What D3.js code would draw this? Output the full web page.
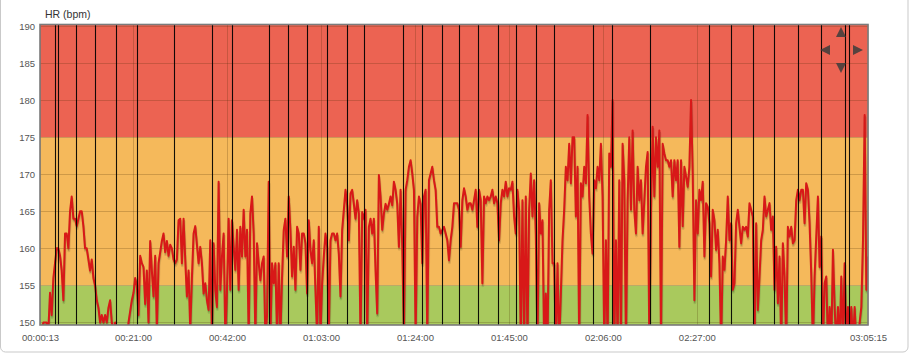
<!DOCTYPE html>
<html><head><meta charset="utf-8">
<script src="https://cdn.jsdelivr.net/npm/d3@7"></script>
<style>body{margin:0;background:#fff;}svg{display:block;}</style>
</head><body>
<svg id="chart" width="913" height="356"></svg>
<script>
// ---- data ----
const startSec = 13, endSec = 11115;
const hr = [
149,149,150,150,150,149,154,151,156,158,
160,160,159,157,153,162,162,160,165,167,
164,164,163,164,165,165,163,160,160,158.5,
157,158.5,156,155,153,152,150,151,150,151,
150,152,153,150,149,150,149,147,147,147,
147,147,147,150,151.5,153,154,156,155,151,
159,158,157.5,152.5,157,150,161,157,153.5,159,
149,158,159.5,161,162,159.5,161,159,160.5,160,
158.5,158,158.5,163.8,164,158,164,158.5,153.5,157,
149,156,162,163,160.5,158,160.2,158,153.9,155.3,
153,151.7,161.1,148,160.7,154.4,152.1,169,154.4,158.9,
162,148,154.4,164,154.4,163.8,160.2,157.1,162.5,154.4,
162.9,158.9,165.2,158.9,162.5,148,164.7,167,162,148,
160.7,158,155.7,158,158.9,148,151,169,148,158,
155.3,158,148,158,148,156.2,162.5,164,158.9,167,
162.5,156.2,160.2,154.4,162.9,162,157.1,162,162,160.7,
153.9,163.8,159.8,158,161.1,154.4,148,162.9,148,155.3,
158.9,162,160.2,148,161.1,162,162,161.1,162,159.3,
153.5,162.5,165.2,167.9,165.8,161.1,167.4,167.9,166,164,
166.5,164.7,148,164.9,164,165.2,148,162.9,164,162,
164,157.1,151.2,169.9,167,162.5,164.7,166,165.2,166,
167,165.8,169,167.9,166,160.2,167.9,160.2,148,167.9,
169.2,171,171.9,170.1,167.9,148,164.3,167,166,158,
167,167.9,148,169.2,170.1,171,169.2,167.9,162.9,162.9,
162,162.5,162.9,162,161.1,158.4,161.1,162.9,166.1,166.1,
166.1,165.2,160.2,166.5,168.1,167,165.2,166.1,166.1,165.2,
166.5,167.9,162.9,167.9,166.5,155.3,167,166.1,167,166.5,
167,167.9,166.1,167,166.1,161.1,166.1,167.9,167,169,
167,168.1,167.9,169,164.3,162,167.9,165.2,147,166.5,
147,167,147,165.2,170.1,164.3,169.2,162,147,166.1,
162,163.8,147,153.9,147,165.2,169.2,158,158,147,
158,147,153.9,161.1,165.2,171,169.2,174.1,168.8,175,
175,164.3,171,147,168.8,167,171,168.8,178,167,
162,159.3,169.2,168.1,171,169.2,174.1,167,147,161.1,
147,172.8,171,180,147,161.1,147,169.2,147,174.1,
169.2,147,166.5,175,165.2,175.9,165.2,162,171,166.5,
169.2,162,166.5,171,173,147,165.2,176.4,167,175,
171,175.9,147,174.1,172.8,171.9,171.9,171,171.9,167,
171.9,169.2,171.9,160.2,171.9,163,171,169.7,168.3,171,
180,170.1,153,166.5,162,167.9,166.5,169,158.9,166.1,
165.6,163.4,156.2,165.2,163.8,159.8,162.5,158,147,158.9,
157.1,161.1,167,161.1,163.4,154.4,155.3,163.4,165.2,162.9,
160.7,162.9,162.5,162.9,161.6,166.1,165.2,164.3,147,163.4,
151.7,156.2,161.1,162.5,167,164.3,165.2,166.1,162.5,164.3,
154.4,160.2,152.6,158.9,147,160.7,156.2,147,162.9,161.6,
162.9,160.7,161.1,166.5,167.9,166.5,167.9,167.9,163.4,168.8,
167.9,163.4,156.6,147,156.2,161.6,167,157.5,161.6,147,
155.3,156.2,147,152.1,147,159.8,152.1,147,152.1,147,
156.2,147,158,147,152.1,147,152.1,147,152.1,147,
148,150,152.1,161.1,178,154.4,158.9
];
const lapSec = [214,258,496,754,1028,1310,1814,2323,2581,3083,3334,3589,3861,4123,4361,
  4884,5139,5399,5635,5882,6150,6399,6663,6909,7424,7678,8192,8987,9282,9577,9858,
  10172,10481,10806,10864];
const xTickSec = [13,1260,2520,3780,5040,6300,7560,8820,11115];
const xTickLabels = ["00:00:13","00:21:00","00:42:00","01:03:00","01:24:00","01:45:00","02:06:00","02:27:00","03:05:15"];
const yTicks = [150,155,160,165,170,175,180,185,190];
const zoneLimits = [155,175];
const yDomain = [149.66,190.2];

// ---- layout ----
const L = 40, R = 868, T = 24.5, B = 325;
const svg = d3.select("#chart");
const x = d3.scaleLinear().domain([startSec,endSec]).range([L,R]);
const y = d3.scaleLinear().domain(yDomain).range([B,T]);
const stepSec = (endSec-startSec)/(hr.length-1);
const pts = hr.map((v,i)=>[startSec+i*stepSec, v]);

// outer panel
svg.append("rect").attr("x",0.5).attr("y",-10).attr("width",907.5).attr("height",362)
  .attr("rx",5).attr("fill","#fff").attr("stroke","#c9c9c9");

// zones
const zoneColors = ["#a9c95d","#f5b95b","#ec6352"];
const bounds = [yDomain[0], ...zoneLimits, yDomain[1]];
for (let k=0;k<3;k++){
  svg.append("rect").attr("x",L).attr("width",R-L)
    .attr("y",y(bounds[k+1])).attr("height",y(bounds[k])-y(bounds[k+1]))
    .attr("fill",zoneColors[k]);
}

// grid
const grid = svg.append("g").attr("stroke","rgba(70,40,0,0.22)").attr("stroke-width",1);
yTicks.forEach(t=>grid.append("line").attr("x1",L).attr("x2",R).attr("y1",Math.round(y(t))+0.5).attr("y2",Math.round(y(t))+0.5));
xTickSec.forEach(t=>grid.append("line").attr("y1",T).attr("y2",B).attr("x1",Math.round(x(t))+0.5).attr("x2",Math.round(x(t))+0.5));

// clip
svg.append("clipPath").attr("id","clip").append("rect").attr("x",L).attr("y",T).attr("width",R-L).attr("height",B-T);
const plot = svg.append("g").attr("clip-path","url(#clip)");
const line = d3.line().x(d=>x(d[0])).y(d=>y(d[1]));
const ang = Math.PI/18, lw = 2, sw = 3;
plot.append("path").datum(pts).attr("d",line).attr("fill","none")
  .attr("stroke","rgba(0,0,0,0.1)").attr("stroke-width",sw).attr("stroke-linejoin","round")
  .attr("transform",`translate(${Math.sin(ang)*(lw/2+sw/2)},${Math.cos(ang)*(lw/2+sw/2)})`);
plot.append("path").datum(pts).attr("d",line).attr("fill","none")
  .attr("stroke","rgba(0,0,0,0.2)").attr("stroke-width",sw/2).attr("stroke-linejoin","round")
  .attr("transform",`translate(${Math.sin(ang)*(lw/2+sw/4)},${Math.cos(ang)*(lw/2+sw/4)})`);
plot.append("path").datum(pts).attr("d",line).attr("fill","none")
  .attr("stroke","#d81818").attr("stroke-width",lw).attr("stroke-linejoin","round");

// lap markers
const laps = svg.append("g");
lapSec.forEach(t=>laps.append("line").attr("x1",Math.round(x(t))+0.5).attr("x2",Math.round(x(t))+0.5)
  .attr("y1",T).attr("y2",B).attr("stroke","#000").attr("stroke-opacity",0.92).attr("stroke-width",1.1));

// border
svg.append("rect").attr("x",L).attr("y",T).attr("width",R-L).attr("height",B-T)
  .attr("fill","none").attr("stroke","#7b7b7b").attr("stroke-width",1.6);

// axes
const font = "'Liberation Sans', Arial, sans-serif";
const yAxis = svg.append("g").attr("transform",`translate(${L},0)`)
  .call(d3.axisLeft(y).tickValues(yTicks).tickSize(0).tickPadding(5));
const xAxis = svg.append("g").attr("transform",`translate(0,${B})`)
  .call(d3.axisBottom(x).tickValues(xTickSec).tickFormat((d,i)=>xTickLabels[i]).tickSize(0).tickPadding(9));
[yAxis,xAxis].forEach(a=>{a.select(".domain").remove();
  a.selectAll("text").attr("fill","#555").style("font-family",font).style("font-size","9.5px");});

svg.append("text").attr("x",45).attr("y",18).text("HR (bpm)")
  .attr("fill","#333").style("font-family",font).style("font-size","10.5px");

// navigation arrows
const nav = svg.append("g").attr("fill","#3c3c3c").attr("fill-opacity",0.85);
const cx = 841, cy = 50;
nav.append("path").attr("d",`M${cx},${cy-23}l-5,10h10z`);
nav.append("path").attr("d",`M${cx},${cy+23}l-5,-10h10z`);
nav.append("path").attr("d",`M${cx-21},${cy}l10,-5v10z`);
nav.append("path").attr("d",`M${cx+22},${cy}l-10,-5v10z`);
</script>
</body></html>
